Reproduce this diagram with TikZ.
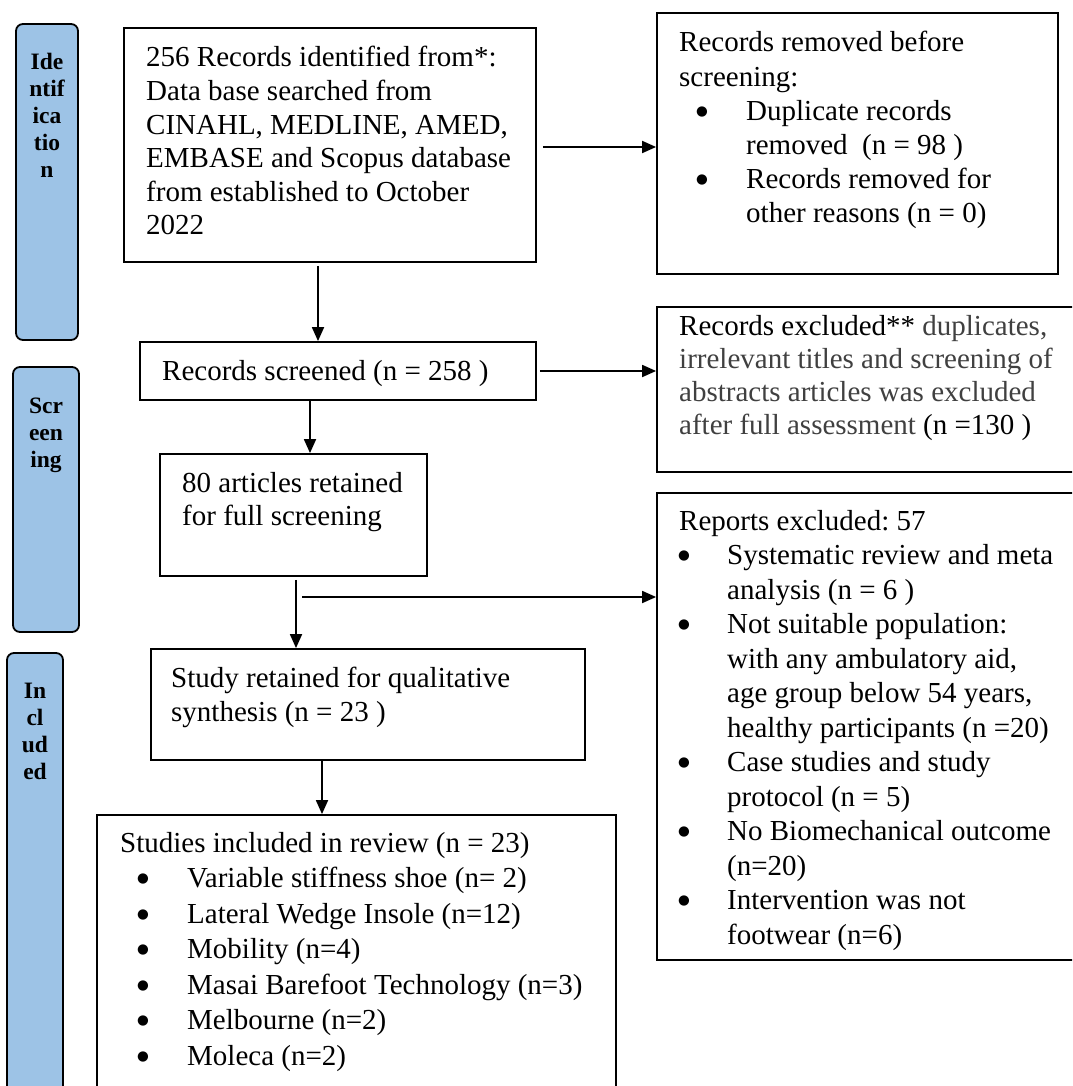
\documentclass[tikz,border=0pt]{standalone}
\usepackage{fontspec}
\setmainfont{Liberation Serif}
\newfontfamily\bulletfont{DejaVu Sans}
\usetikzlibrary{arrows.meta,calc}
\definecolor{sidefill}{HTML}{9DC3E6}
\definecolor{greytext}{HTML}{404040}
\newcommand{\bulletmark}{\raisebox{4.8pt}{\fontsize{13.5}{13.5}\selectfont\bulletfont ●}}
\newcommand{\itemA}{\hspace*{17pt}\makebox[50pt][l]{\bulletmark}}
\newcommand{\contA}{\hspace*{67pt}}
\newcommand{\itemH}{\hspace*{-1pt}\makebox[49pt][l]{\bulletmark}}
\newcommand{\contH}{\hspace*{48pt}}
\frenchspacing
\begin{document}
\begin{tikzpicture}[x=1pt,y=-1pt,
  box/.style={draw, line width=1.8pt, inner sep=0pt},
  side/.style={draw, line width=1.8pt, fill=sidefill, rounded corners=7pt, inner sep=0pt},
  arr/.style={line width=1.8pt, -{Triangle[length=14pt,width=12pt]}},
  txt/.style={anchor=base west, inner sep=0pt},
  stxt/.style={anchor=base, inner sep=0pt}]
\fill[white] (0,0) rectangle (1072,1086);
\useasboundingbox (0,0) rectangle (1072,1086);
\clip (0,0) rectangle (1072,1086);

% side bars
\node[side, minimum width=62pt, minimum height=316pt] (sI) at (47,182) {};
\node[side, minimum width=66pt, minimum height=265pt] (sS) at (46,499.5) {};
\node[side, minimum width=56pt, minimum height=470pt] (sN) at (35,888) {};
\node[stxt] (tI) at (47,70) {\fontsize{23.5}{27}\selectfont\bfseries\begin{tabular}[t]{@{}c@{}}Ide\\ntif\\ica\\tio\\n\end{tabular}};
\node[stxt] (tS) at (46,413) {\fontsize{23.5}{27}\selectfont\bfseries\begin{tabular}[t]{@{}c@{}}Scr\\een\\ing\end{tabular}};
\node[stxt] (tN) at (35,698) {\fontsize{23.5}{27}\selectfont\bfseries\begin{tabular}[t]{@{}c@{}}In\\cl\\ud\\ed\end{tabular}};

% boxes
\node[box, minimum width=412pt, minimum height=234pt] (A) at (330,145) {};
\node[box, minimum width=401pt, minimum height=261pt] (B) at (857.5,143.5) {};
\node[box, minimum width=396pt, minimum height=58pt] (C) at (338,371) {};
\node[box, minimum width=433pt, minimum height=165pt] (E) at (873.5,389.5) {};
\node[box, minimum width=267pt, minimum height=122pt] (D) at (293.5,515) {};
\node[box, minimum width=433pt, minimum height=467pt] (H) at (873.5,726.5) {};
\node[box, minimum width=434pt, minimum height=111pt] (F) at (368,704.5) {};
\node[box, minimum width=519pt, minimum height=295pt] (G) at (356.5,962.5) {};

% texts
\node[txt] (tA) at (146,67) {\fontsize{29}{33.6}\selectfont\begin{tabular}[t]{@{}l@{}}
256 Records identified from*:\\
Data base searched from\\
CINAHL, MEDLINE, AMED,\\
EMBASE and Scopus database\\
from established to October\\
2022\end{tabular}};

\node[txt] (tB) at (679,52) {\fontsize{29}{34.2}\selectfont\begin{tabular}[t]{@{}l@{}}
Records removed before\\
screening:\\
\itemA Duplicate records\\
\contA removed \ (n = 98 )\\
\itemA Records removed for\\
\contA other reasons (n = 0)\end{tabular}};

\node[txt] (tC) at (162,380) {\fontsize{29}{34}\selectfont Records screened (n = 258 )};

\node[txt] (tE) at (679,335) {\fontsize{29}{33.3}\selectfont\begin{tabular}[t]{@{}l@{}}
Records excluded** {\color{greytext}duplicates,}\\
{\color{greytext}irrelevant titles and screening of}\\
{\color{greytext}abstracts articles was excluded}\\
{\color{greytext}after full assessment }(n =130 )\end{tabular}};

\node[txt] (tD) at (182,492) {\fontsize{29}{33.5}\selectfont\begin{tabular}[t]{@{}l@{}}
80 articles retained\\
for full screening\end{tabular}};

\node[txt] (tH) at (679,530) {\fontsize{29}{34.5}\selectfont\begin{tabular}[t]{@{}l@{}}
Reports excluded: 57\\
\itemH Systematic review and meta\\
\contH analysis (n = 6 )\\
\itemH Not suitable population:\\
\contH with any ambulatory aid,\\
\contH age group below 54 years,\\
\contH healthy participants (n =20)\\
\itemH Case studies and study\\
\contH protocol (n = 5)\\
\itemH No Biomechanical outcome\\
\contH (n=20)\\
\itemH Intervention was not\\
\contH footwear (n=6)\end{tabular}};

\node[txt] (tF) at (171,687) {\fontsize{29}{34.5}\selectfont\begin{tabular}[t]{@{}l@{}}
Study retained for qualitative\\
synthesis (n = 23 )\end{tabular}};

\node[txt] (tG) at (120,852) {\fontsize{29}{35.5}\selectfont\begin{tabular}[t]{@{}l@{}}
Studies included in review (n = 23)\\
\itemA Variable stiffness shoe (n= 2)\\
\itemA Lateral Wedge Insole (n=12)\\
\itemA Mobility (n=4)\\
\itemA Masai Barefoot Technology (n=3)\\
\itemA Melbourne (n=2)\\
\itemA Moleca (n=2)\end{tabular}};

% connectors
\coordinate (xa) at (318,0);
\coordinate (xb) at (310,0);
\coordinate (xc) at (296,0);
\coordinate (xd) at (322,0);
\coordinate (yh) at (0,597);
\draw[arr] ($(A.east)+(6,2)$) -- ($(A.east -| B.west)+(0,2)$);
\draw[arr] ($(A.south -| xa)+(0,3)$) -- (C.north -| xa);
\draw[arr] ($(C.east)+(3,0)$) -- (C.east -| E.west);
\draw[arr] (C.south -| xb) -- (D.north -| xb);
\draw[arr] ($(D.south -| xc)+(0,3)$) -- (F.north -| xc);
\draw[arr] ($(xc |- yh)+(6,0)$) -- (yh -| H.west);
\draw[arr] (F.south -| xd) -- (G.north -| xd);
\end{tikzpicture}
\end{document}
